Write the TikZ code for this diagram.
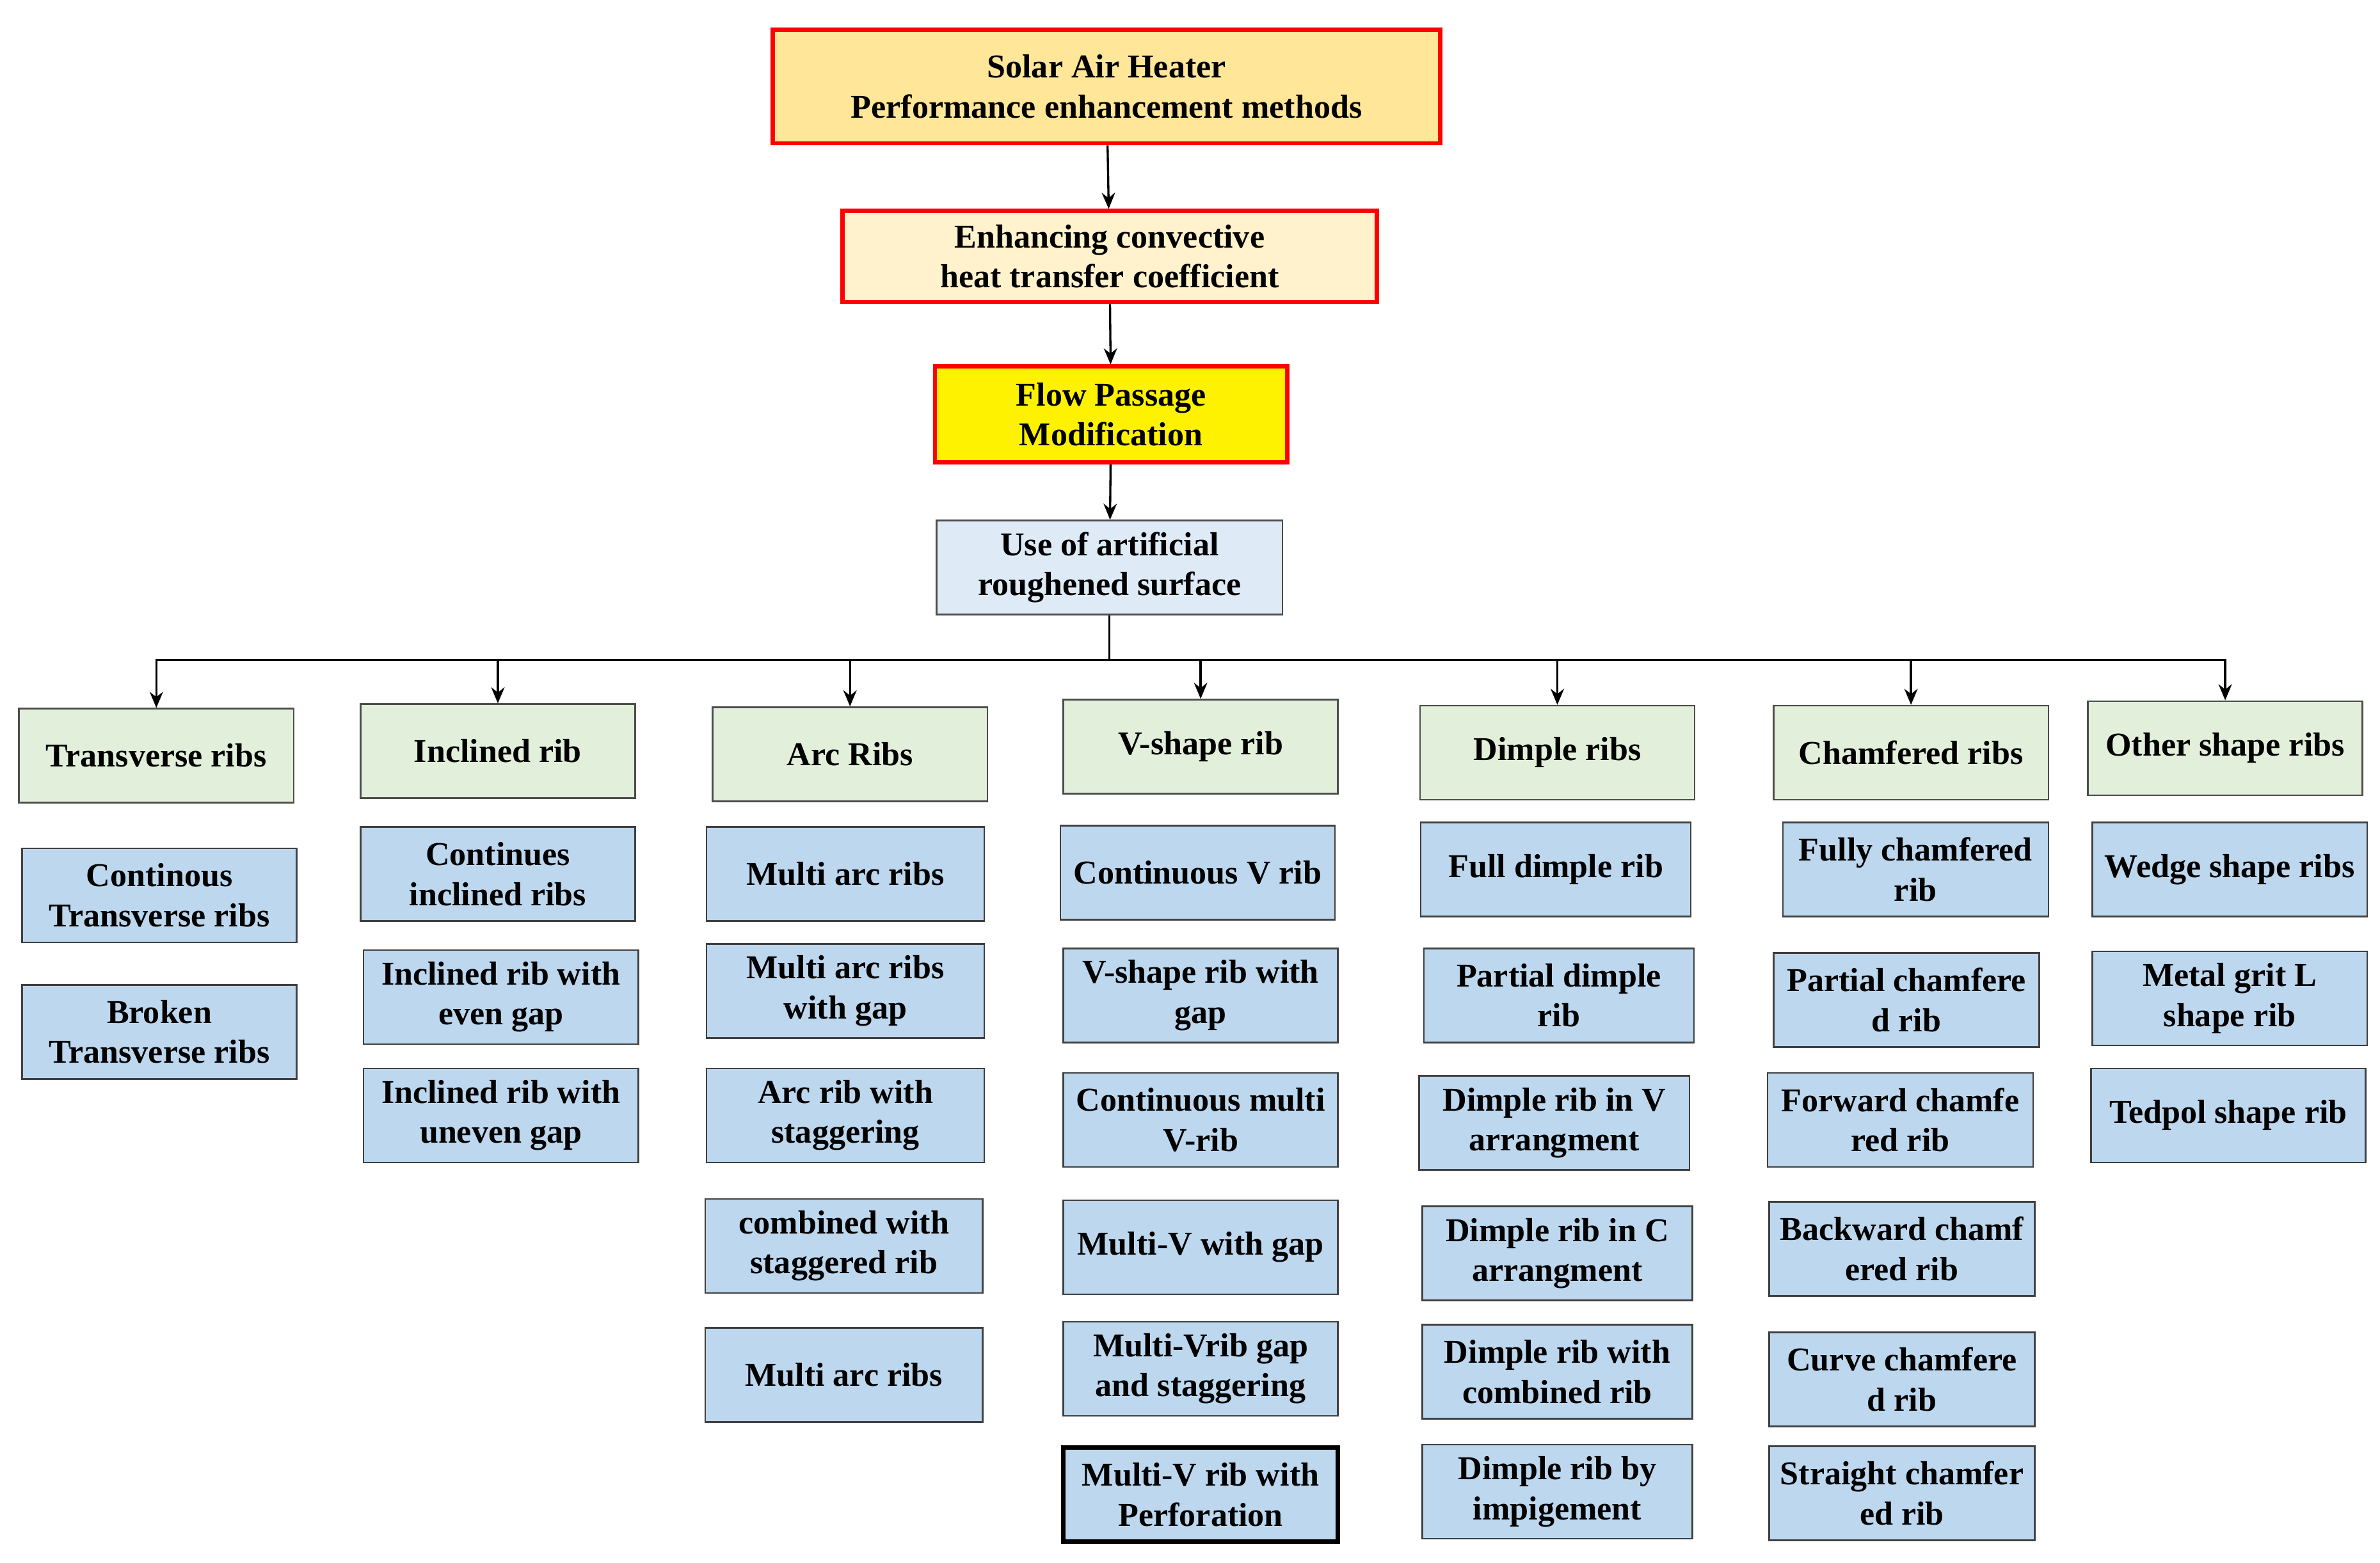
\documentclass[tikz,border=0pt]{standalone}
\usepackage{fontspec}
\setmainfont{Liberation Serif}
\usetikzlibrary{arrows.meta}
\definecolor{topfill}{HTML}{FFE699}
\definecolor{secfill}{HTML}{FFF2CC}
\definecolor{blufill}{HTML}{BDD7EE}
\definecolor{pale}{HTML}{DEEBF7}
\definecolor{grn}{HTML}{E2EFDA}
\begin{document}
\begin{tikzpicture}[x=0.02cm,y=-0.02cm,
  base/.style={draw, align=center, font=\bfseries\fontsize{12.5}{15}\selectfont, inner sep=1pt, minimum width=3.62cm, minimum height=1.24cm},
  red/.style={base, draw=red, line width=1.6pt},
  hdr/.style={base, fill=grn, draw=black!70, line width=0.6pt},
  itm/.style={base, fill=blufill, draw=black!75, line width=0.6pt},
  arr/.style={-{Stealth[length=6pt,width=5pt]}, line width=0.8pt}]
\useasboundingbox (0,0) rectangle (1568,1030);
\node[red, fill=topfill, minimum width=8.8cm, minimum height=1.5cm] (t1) at (729,57) {Solar Air Heater\\Performance enhancement methods};
\node[red, fill=secfill, minimum width=7.04cm, minimum height=1.2cm] (t2) at (731,169) {Enhancing convective\\heat transfer coefficient};
\node[red, fill=yellow, minimum width=4.64cm, minimum height=1.26cm] (t3) at (732,273) {Flow Passage\\Modification};
\node[base, fill=pale, draw=black!70, line width=0.6pt, minimum width=4.56cm] (t4) at (731,374) {Use of artificial\\roughened surface};
\draw[arr] (t1) -- (t2);
\draw[arr] (t2) -- (t3);
\draw[arr] (t3) -- (t4);
\coordinate (bus) at (731,435);
\draw[line width=0.8pt] (t4.south) -- (bus);
\node[hdr] (h1) at (103,498) {Transverse ribs};
\node[hdr] (h2) at (328,495) {Inclined rib};
\node[hdr] (h3) at (560,497) {Arc Ribs};
\node[hdr] (h4) at (791,492) {V-shape rib};
\node[hdr] (h5) at (1026,496) {Dimple ribs};
\node[hdr] (h6) at (1259,496) {Chamfered ribs};
\node[hdr] (h7) at (1466,493) {Other shape ribs};
\foreach \h in {h1,h2,h3,h4,h5,h6,h7} \draw[arr] (bus) -| (\h.north);
% Transverse
\node[itm] (a1) at (105,590) {Continous\\Transverse ribs};
\node[itm] (a2) at (105,680) {Broken\\Transverse ribs};
% Inclined
\node[itm] (b1) at (328,576) {Continues\\inclined ribs};
\node[itm] (b2) at (330,657) {Inclined rib with\\even gap};
\node[itm] (b3) at (330,735) {Inclined rib with\\uneven gap};
% Arc
\node[itm, minimum width=3.66cm] (c1) at (557,576) {Multi arc ribs};
\node[itm, minimum width=3.66cm] (c2) at (557,653) {Multi arc ribs\\with gap};
\node[itm, minimum width=3.66cm] (c3) at (557,735) {Arc rib with\\staggering};
\node[itm, minimum width=3.66cm] (c4) at (556,821) {combined with\\staggered rib};
\node[itm, minimum width=3.66cm] (c5) at (556,906) {Multi arc ribs};
% V
\node[itm] (d1) at (789,575) {Continuous V rib};
\node[itm] (d2) at (791,656) {V-shape rib with\\gap};
\node[itm] (d3) at (791,738) {Continuous multi\\V-rib};
\node[itm] (d4) at (791,822) {Multi-V with gap};
\node[itm] (d5) at (791,902) {Multi-Vrib gap\\and staggering};
\node[itm, line width=1.6pt, draw=black] (d6) at (791,985) {Multi-V rib with\\Perforation};
% Dimple
\node[itm, minimum width=3.56cm] (e1) at (1025,573) {Full dimple rib};
\node[itm, minimum width=3.56cm] (e2) at (1027,656) {Partial dimple\\rib};
\node[itm, minimum width=3.56cm] (e3) at (1024,740) {Dimple rib in V\\arrangment};
\node[itm, minimum width=3.56cm] (e4) at (1026,826) {Dimple rib in C\\arrangment};
\node[itm, minimum width=3.56cm] (e5) at (1026,904) {Dimple rib with\\combined rib};
\node[itm, minimum width=3.56cm] (e6) at (1026,983) {Dimple rib by\\impigement};
% Chamfered
\node[itm, minimum width=3.5cm] (f1) at (1262,573) {Fully chamfered\\rib};
\node[itm, minimum width=3.5cm] (f2) at (1256,659) {Partial chamfere\\d rib};
\node[itm, minimum width=3.5cm] (f3) at (1252,738) {Forward chamfe\\red rib};
\node[itm, minimum width=3.5cm] (f4) at (1253,823) {Backward chamf\\ered rib};
\node[itm, minimum width=3.5cm] (f5) at (1253,909) {Curve chamfere\\d rib};
\node[itm, minimum width=3.5cm] (f6) at (1253,984) {Straight chamfer\\ed rib};
% Other
\node[itm] (g1) at (1469,573) {Wedge shape ribs};
\node[itm] (g2) at (1469,658) {Metal grit L\\shape rib};
\node[itm] (g3) at (1468,735) {Tedpol shape rib};
\end{tikzpicture}
\end{document}
